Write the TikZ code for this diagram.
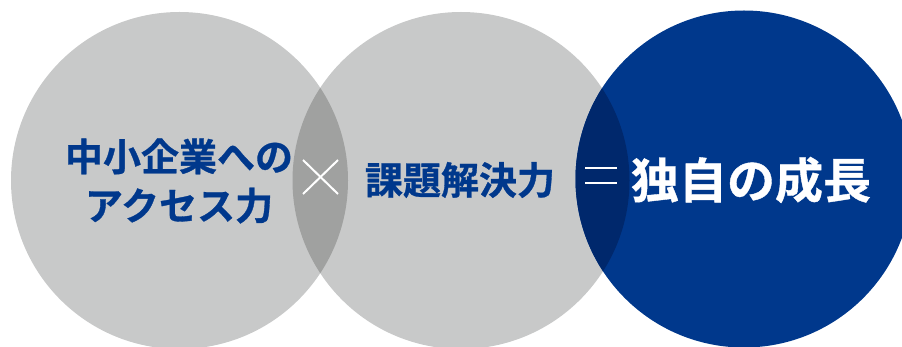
\documentclass[tikz,border=0pt]{standalone}
\usepackage{fontspec}
\newfontfamily\cjk{Noto Sans CJK JP}[BoldFont={Noto Sans CJK JP Bold},BoldFeatures={FakeBold=0.8}]
\definecolor{cgray}{RGB}{200,201,201}
\definecolor{cgraydark}{RGB}{160,161,160}
\definecolor{cblue}{RGB}{0,56,140}
\definecolor{cbluedark}{RGB}{0,40,108}
\begin{document}
\begin{tikzpicture}[x=1pt,y=-1pt,
  disc/.style={circle,minimum size=337pt,inner sep=0pt},
  lbl/.style={font=\cjk\bfseries\fontsize{38}{49}\selectfont,text=cblue,align=center,inner sep=0pt},
  opline/.style={draw=white,line width=2pt}]
\useasboundingbox (0,0) rectangle (902,347);
\node[disc,fill=cgray] (c1) at (179.5,180.5) {};
\node[disc,fill=cgray] (c2) at (461,180.5) {};
\node[disc,fill=cblue] (c3) at (744,179) {};
\begin{scope}
  \clip (179.5,180.5) circle[radius=168.5];
  \fill[cgraydark] (461,180.5) circle[radius=168.5];
\end{scope}
\begin{scope}
  \clip (461,180.5) circle[radius=168.5];
  \fill[cbluedark] (744,179) circle[radius=168.5];
\end{scope}
\node[lbl] (t1) at (179,181) {中小企業への\\アクセス力};
\node[lbl] (t2) at (460,180) {課題解決力};
\node[lbl,text=white,font=\cjk\bfseries\fontsize{48}{56}\selectfont] (t3) at (751,180) {独自の成長};
\coordinate (x1) at (303,160); \coordinate (x2) at (338,194);
\coordinate (x3) at (338,160); \coordinate (x4) at (303,194);
\draw[opline] (x1) -- (x2);
\draw[opline] (x3) -- (x4);
\coordinate (e1) at (585,168.5); \coordinate (e2) at (617,168.5);
\coordinate (e3) at (585,183); \coordinate (e4) at (617,183);
\draw[opline] (e1) -- (e2);
\draw[opline] (e3) -- (e4);
\end{tikzpicture}
\end{document}
